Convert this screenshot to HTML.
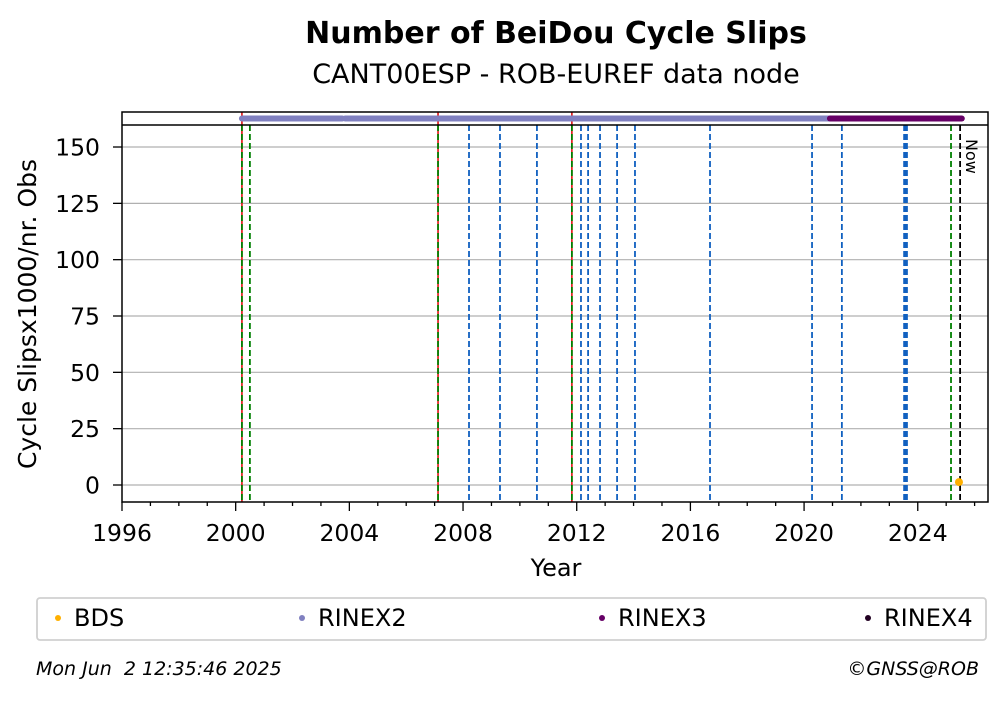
<!DOCTYPE html>
<html><head><meta charset="utf-8"><style>
body{margin:0;background:#fff;font-family:"Liberation Sans","DejaVu Sans",sans-serif}
svg text{font-family:"DejaVu Sans","Liberation Sans",sans-serif;white-space:pre}
</style></head><body>
<svg id="c" width="1008" height="699" xmlns="http://www.w3.org/2000/svg">
<text x="556" y="43" text-anchor="middle" font-size="30" font-weight="bold">Number of BeiDou Cycle Slips</text>
<text x="556" y="83" text-anchor="middle" font-size="27">CANT00ESP - ROB-EUREF data node</text>
<g id="grid"></g><g id="vlines"></g><g id="series"></g><g id="axes"></g>
<text transform="translate(36,314) rotate(-90)" text-anchor="middle" font-size="25">Cycle Slipsx1000/nr. Obs</text>
<text x="556" y="576" text-anchor="middle" font-size="24">Year</text>
<text transform="translate(966,139) rotate(90)" font-size="16">Now</text>
<g>
<rect x="37" y="598" width="949" height="42" rx="3" fill="#fff" stroke="#d0d0d0" stroke-width="1.8"/>
<circle cx="58" cy="618" r="3" fill="#ffb000"/><text x="74" y="626" font-size="24">BDS</text>
<circle cx="302" cy="618" r="3" fill="#8080c0"/><text x="318" y="626" font-size="24">RINEX2</text>
<circle cx="602" cy="618" r="3" fill="#660066"/><text x="618" y="626" font-size="24">RINEX3</text>
<circle cx="868" cy="618" r="3" fill="#220022"/><text x="884" y="626" font-size="24">RINEX4</text>
</g>
<text x="36" y="675" font-size="19" font-style="italic">Mon Jun  2 12:35:46 2025</text>
<text x="979" y="675" text-anchor="end" font-size="19" font-style="italic">©GNSS@ROB</text>
</svg>
<script>
const xTicks=[1996,2000,2004,2008,2012,2016,2020,2024];
const yTicks=[0,25,50,75,100,125,150];
const redGreenEvents=[2000.22,2007.12,2011.83];
const greenEvents=[2000.50,2025.17];
const blueEvents=[2008.21,2009.30,2010.60,2012.15,2012.40,2012.82,2013.42,2014.05,2016.69,2020.28,2021.33,2023.52,2023.57,2023.62];
const nowYear=2025.49;
const rinex2Segments=[[2000.22,2003.75],[2003.85,2020.91]];
const rinex3Segments=[[2020.91,2025.55]];
const bdsYears=[2025.45];
const bdsValues=[1.3];
const NS="http://www.w3.org/2000/svg";
const X=y=>122+(y-1996)*28.42;
const Y=v=>485-v*2.2533;
const L=122,R=988,T=112,B=502,BT=125;
function mk(p,tag,a){const e=document.createElementNS(NS,tag);for(const k in a)e.setAttribute(k,a[k]);document.getElementById(p).appendChild(e);return e;}
yTicks.forEach(v=>{const g=mk('grid','line',{x1:L,x2:R,y1:Y(v),y2:Y(v),stroke:'#b0b0b0','stroke-width':1.2});


mk('axes','line',{x1:L-9,x2:L,y1:Y(v),y2:Y(v),stroke:'#000','stroke-width':1.3});
const t=mk('axes','text',{x:L-22,y:Y(v)+8.5,'text-anchor':'end','font-size':23.5});t.textContent=v;

});
redGreenEvents.forEach(y=>{const a=mk('vlines','line',{x1:X(y),x2:X(y),y1:T,y2:B,stroke:'#e00000','stroke-width':1.5});


const b=mk('vlines','line',{x1:X(y),x2:X(y),y1:BT,y2:B,stroke:'#008000','stroke-width':1.8,'stroke-dasharray':'6 3'});

});
greenEvents.forEach(y=>{const b=mk('vlines','line',{x1:X(y),x2:X(y),y1:BT,y2:B,stroke:'#008000','stroke-width':1.8,'stroke-dasharray':'6 3'});

});
blueEvents.forEach(y=>{const b=mk('vlines','line',{x1:X(y),x2:X(y),y1:BT,y2:B,stroke:'#1060c0','stroke-width':1.8,'stroke-dasharray':'6 3'});

});
{const n=mk('vlines','line',{x1:X(nowYear),x2:X(nowYear),y1:BT,y2:B,stroke:'#000','stroke-width':1.8,'stroke-dasharray':'6 3'});

}
rinex2Segments.forEach(s=>{const e=mk('series','line',{x1:X(s[0]),x2:X(s[1]),y1:118.5,y2:118.5,stroke:'#8080c0','stroke-width':6,'stroke-linecap':'round'});

});
rinex3Segments.forEach(s=>{const e=mk('series','line',{x1:X(s[0]),x2:X(s[1]),y1:118.5,y2:118.5,stroke:'#660066','stroke-width':6,'stroke-linecap':'round'});

});
bdsYears.forEach((y,i)=>{const e=mk('series','circle',{cx:X(y),cy:Y(bdsValues[i]),r:4,fill:'#ffb000'});

});
for(let y=1996;y<=2026;y++){const big=xTicks.includes(y);mk('axes','line',{x1:X(y),x2:X(y),y1:B,y2:B+(big?9:4),stroke:'#000','stroke-width':1.3});}
xTicks.forEach(y=>{const t=mk('axes','text',{x:X(y),y:B+39,'text-anchor':'middle','font-size':23.5});t.textContent=y;

});
mk('axes','rect',{x:L,y:T,width:R-L,height:B-T,fill:'none',stroke:'#000','stroke-width':1.5});
mk('axes','line',{x1:L,x2:R,y1:BT,y2:BT,stroke:'#000','stroke-width':1.5});
</script>
</body></html>
